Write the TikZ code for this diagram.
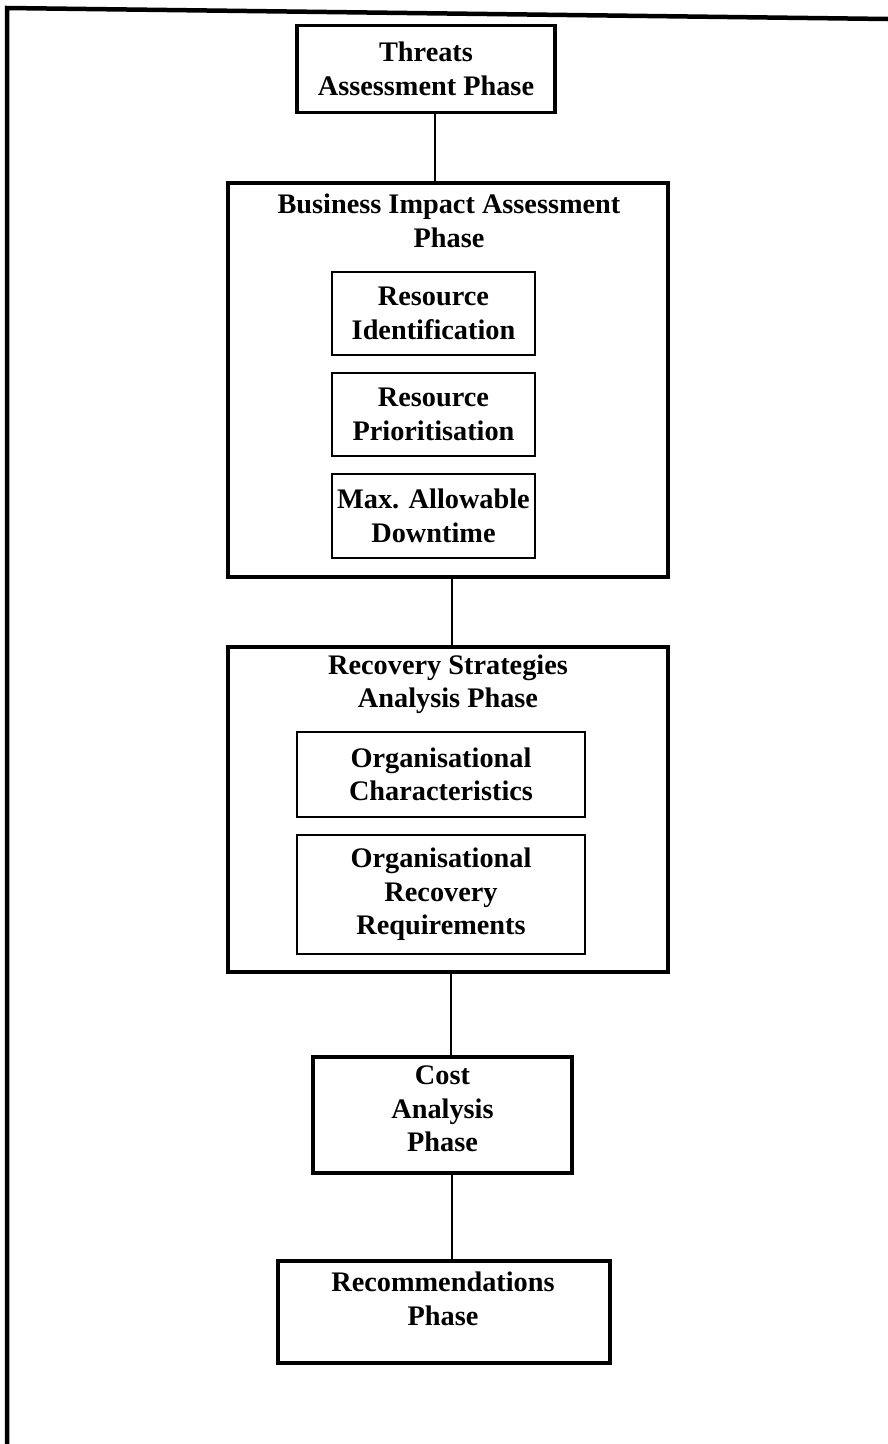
\documentclass[tikz,border=0pt]{standalone}
\usepackage{fontspec}
\setmainfont{Liberation Serif}
\begin{document}
\begin{tikzpicture}[x=1pt,y=-1pt,
  lbl/.style={font=\bfseries\fontsize{28.3}{33.5}\selectfont, align=center, inner sep=0pt},
  phasebox/.style={draw, line width=3.2pt, inner sep=0pt, minimum width=#1},
  subbox/.style={draw, line width=2.2pt, inner sep=0pt, minimum width=#1},
  link/.style={line width=2pt}]
  \useasboundingbox (0,0) rectangle (888,1444);
  % page frame (left and top edges)
  \coordinate (frameTL) at (7,8);
  \coordinate (frameTR) at (888,19);
  \coordinate (frameBL) at (7,1444);
  \draw[line width=4.5pt] (frameBL) -- (frameTL) -- (frameTR);

  % threats assessment
  \node[phasebox=258pt, minimum height=87pt, lbl] (threats) at (426,69) {Threats\\Assessment Phase};

  % business impact assessment
  \node[phasebox=440pt, minimum height=394pt] (bia) at (448,380) {};
  \node[lbl] (biatitle) at (449,221) {Business Impact Assessment\\Phase};
  \node[subbox=203pt, minimum height=83pt, lbl] (resid) at (433.5,313.5) {Resource\\Identification};
  \node[subbox=203pt, minimum height=83pt, lbl] (resprio) at (433.5,414.5) {Resource\\Prioritisation};
  \node[subbox=203pt, minimum height=84pt, lbl] (maxdown) at (433.5,516) {Max. Allowable\\Downtime};

  % recovery strategies
  \node[phasebox=440pt, minimum height=325pt] (rsa) at (448,809.5) {};
  \node[lbl] (rsatitle) at (448,684) {Recovery Strategies\\Analysis Phase};
  \node[subbox=288pt, minimum height=85pt, lbl] (orgchar) at (441,774.5) {Organisational\\Characteristics};
  \node[subbox=288pt, minimum height=119pt, lbl] (orgreq) at (441,894.5) {Organisational\\Recovery\\Requirements};

  % cost analysis
  \node[phasebox=259pt, minimum height=116pt] (cost) at (442.5,1115) {};
  \node[lbl] (costtext) at (442.5,1109) {Cost\\Analysis\\Phase};

  % recommendations
  \node[phasebox=332pt, minimum height=102pt] (rec) at (444,1312) {};
  \node[lbl] (rectext) at (443,1299) {Recommendations\\Phase};

  % connectors
  \draw[link] ([xshift=9pt]threats.south) -- ([xshift=9pt]threats.south |- bia.north);
  \draw[link] ([xshift=4pt]bia.south) -- ([xshift=4pt]bia.south |- rsa.north);
  \draw[link] ([xshift=3pt]rsa.south) -- ([xshift=3pt]rsa.south |- cost.north);
  \draw[link] ([xshift=9.5pt]cost.south) -- ([xshift=9.5pt]cost.south |- rec.north);
\end{tikzpicture}
\end{document}
